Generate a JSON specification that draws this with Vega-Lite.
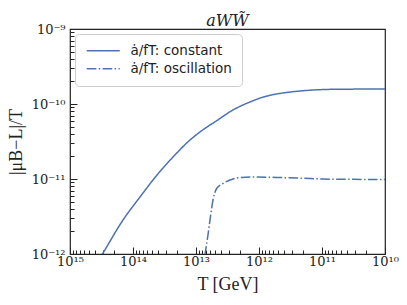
{
  "$schema": "https://vega.github.io/schema/vega-lite/v6.json",
  "width": 315,
  "height": 225,
  "autosize": {"type": "none"},
  "padding": {"left": 70, "top": 29, "right": 22, "bottom": 51},
  "background": "white",
  "title": {"text": "aWW̃", "font": "DejaVu Serif", "fontStyle": "italic", "fontSize": 16, "fontWeight": "normal", "offset": -6, "color": "#222222"},
  "config": {
    "view": {"stroke": "#222222", "strokeWidth": 1.2},
    "axis": {"grid": false, "domain": false, "tickColor": "#222222", "labelColor": "#222222", "titleColor": "#222222", "labelOverlap": false, "labelFlush": false, "labelFont": "DejaVu Serif", "labelFontSize": 13, "titleFont": "Liberation Serif", "titleFontSize": 18, "titleFontWeight": "normal"}
  },
  "data": {"values": [
    {"series": "ȧ/fT: constant", "T": 4.009e14, "mu": 6.918e-13},
    {"series": "ȧ/fT: constant", "T": 2.992e14, "mu": 1.030e-12},
    {"series": "ȧ/fT: constant", "T": 1.442e14, "mu": 2.838e-12},
    {"series": "ȧ/fT: constant", "T": 7.745e13, "mu": 5.754e-12},
    {"series": "ȧ/fT: constant", "T": 4.159e13, "mu": 1.130e-11},
    {"series": "ȧ/fT: constant", "T": 2.317e13, "mu": 1.963e-11},
    {"series": "ȧ/fT: constant", "T": 1.245e13, "mu": 3.311e-11},
    {"series": "ȧ/fT: constant", "T": 8.650e12, "mu": 4.236e-11},
    {"series": "ȧ/fT: constant", "T": 4.645e12, "mu": 6.026e-11},
    {"series": "ȧ/fT: constant", "T": 2.588e12, "mu": 8.318e-11},
    {"series": "ȧ/fT: constant", "T": 1.390e12, "mu": 1.064e-10},
    {"series": "ȧ/fT: constant", "T": 7.464e11, "mu": 1.279e-10},
    {"series": "ȧ/fT: constant", "T": 4.159e11, "mu": 1.403e-10},
    {"series": "ȧ/fT: constant", "T": 2.234e11, "mu": 1.489e-10},
    {"series": "ȧ/fT: constant", "T": 6.683e10, "mu": 1.570e-10},
    {"series": "ȧ/fT: constant", "T": 1.0e10, "mu": 1.585e-10},
    {"series": "ȧ/fT: oscillation", "T": 7.943e12, "mu": 5.888e-13},
    {"series": "ȧ/fT: oscillation", "T": 7.194e12, "mu": 1.0e-12},
    {"series": "ȧ/fT: oscillation", "T": 6.457e12, "mu": 1.791e-12},
    {"series": "ȧ/fT: oscillation", "T": 5.998e12, "mu": 2.838e-12},
    {"series": "ȧ/fT: oscillation", "T": 5.370e12, "mu": 5.248e-12},
    {"series": "ȧ/fT: oscillation", "T": 4.645e12, "mu": 7.586e-12},
    {"series": "ȧ/fT: oscillation", "T": 3.864e12, "mu": 8.570e-12},
    {"series": "ȧ/fT: oscillation", "T": 2.884e12, "mu": 9.705e-12},
    {"series": "ȧ/fT: oscillation", "T": 1.995e12, "mu": 1.047e-11},
    {"series": "ȧ/fT: oscillation", "T": 1.245e12, "mu": 1.064e-11},
    {"series": "ȧ/fT: oscillation", "T": 4.645e11, "mu": 1.047e-11},
    {"series": "ȧ/fT: oscillation", "T": 1.995e11, "mu": 1.023e-11},
    {"series": "ȧ/fT: oscillation", "T": 9.638e10, "mu": 1.0e-11},
    {"series": "ȧ/fT: oscillation", "T": 3.162e10, "mu": 9.886e-12},
    {"series": "ȧ/fT: oscillation", "T": 1.0e10, "mu": 9.840e-12}
  ]},
  "mark": {"type": "line", "strokeWidth": 1.5, "clip": true, "interpolate": "monotone"},
  "encoding": {
    "x": {
      "field": "T", "type": "quantitative",
      "scale": {"type": "log", "domain": [1e10, 1e15], "reverse": true, "nice": false},
      "axis": {
        "title": "T [GeV]",
        "values": [1e10, 2e10, 3e10, 4e10, 5e10, 6e10, 7e10, 8e10, 9e10, 1e11, 2e11, 3e11, 4e11, 5e11, 6e11, 7e11, 8e11, 9e11, 1e12, 2e12, 3e12, 4e12, 5e12, 6e12, 7e12, 8e12, 9e12, 1e13, 2e13, 3e13, 4e13, 5e13, 6e13, 7e13, 8e13, 9e13, 1e14, 2e14, 3e14, 4e14, 5e14, 6e14, 7e14, 8e14, 9e14, 1e15],
        "labelExpr": "abs(log(datum.value)/LN10 - round(log(datum.value)/LN10)) < 0.01 ? ['10¹⁰','10¹¹','10¹²','10¹³','10¹⁴','10¹⁵'][round(log(datum.value)/LN10)-10] : ''",
        "tickSize": {"condition": {"test": "abs(log(datum.value)/LN10 - round(log(datum.value)/LN10)) < 0.01", "value": -7}, "value": -4},
        "labelPadding": 8,
        "titlePadding": 4
      }
    },
    "y": {
      "field": "mu", "type": "quantitative",
      "scale": {"type": "log", "domain": [1e-12, 1e-9], "nice": false},
      "axis": {
        "title": "|μB−L|/T",
        "values": [1e-12, 2e-12, 3e-12, 4e-12, 5e-12, 6e-12, 7e-12, 8e-12, 9e-12, 1e-11, 2e-11, 3e-11, 4e-11, 5e-11, 6e-11, 7e-11, 8e-11, 9e-11, 1e-10, 2e-10, 3e-10, 4e-10, 5e-10, 6e-10, 7e-10, 8e-10, 9e-10, 1e-9],
        "labelExpr": "abs(log(datum.value)/LN10 - round(log(datum.value)/LN10)) < 0.01 ? ['10⁻¹²','10⁻¹¹','10⁻¹⁰','10⁻⁹'][round(log(datum.value)/LN10)+12] : ''",
        "tickSize": {"condition": {"test": "abs(log(datum.value)/LN10 - round(log(datum.value)/LN10)) < 0.01", "value": -7}, "value": -4},
        "labelPadding": 12,
        "titlePadding": 6
      }
    },
    "order": {"field": "T", "sort": "descending"},
    "color": {
      "field": "series", "type": "nominal",
      "scale": {"domain": ["ȧ/fT: constant", "ȧ/fT: oscillation"], "range": ["#4c72b0", "#4c72b0"]},
      "legend": {"orient": "top-left", "offset": 5, "title": null, "strokeColor": "#cccccc", "fillColor": "white", "cornerRadius": 4, "padding": 10, "symbolType": "M-1,0H5.6", "symbolSize": 100, "symbolStrokeWidth": 1.5, "symbolFillColor": "transparent", "labelFont": "DejaVu Sans", "labelFontSize": 13.5, "labelColor": "#222222", "rowPadding": 3, "labelOffset": 32}
    },
    "strokeDash": {
      "field": "series", "type": "nominal",
      "scale": {"domain": ["ȧ/fT: constant", "ȧ/fT: oscillation"], "range": [[1, 0], [9.6, 2.4, 1.5, 2.4]]}
    }
  }
}
